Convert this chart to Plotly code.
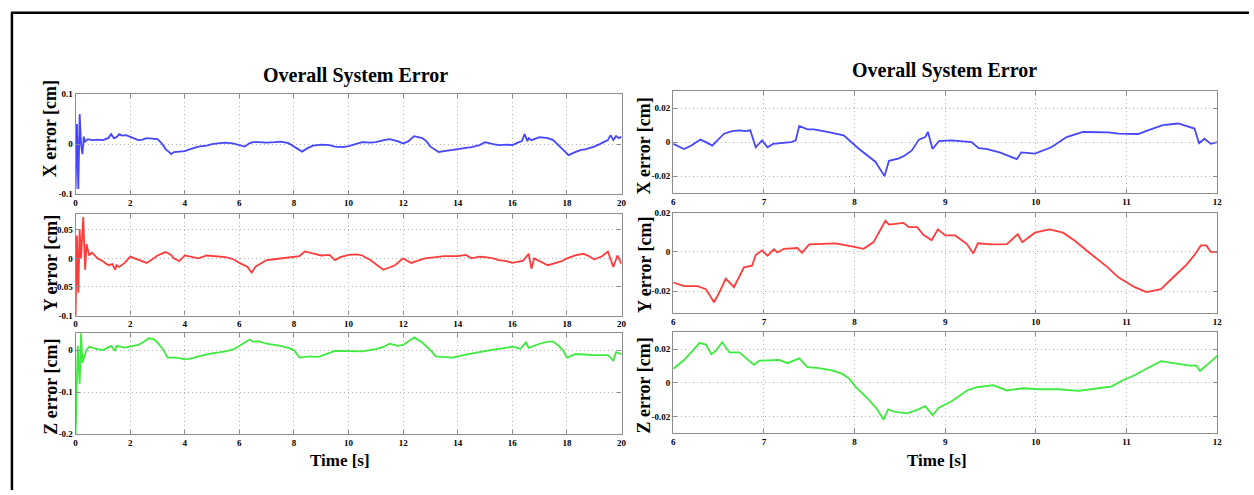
import plotly.graph_objects as go

# ---------------- data ----------------
# Left column: 0-20 s
t_lx = [0.0, 0.05, 0.1, 0.15, 0.2, 0.25, 0.3, 0.35, 0.45, 0.6, 0.8, 1.0, 1.2, 1.3, 1.4, 1.5, 1.6, 1.7, 1.85, 2.0, 2.15, 2.3, 2.45,
        2.6, 2.8, 3.0, 3.15, 3.3, 3.45, 3.5, 3.6, 3.8, 4.0, 4.2, 4.5, 4.8, 5.0, 5.3, 5.5, 5.8, 6.0, 6.2, 6.35, 6.5, 6.7, 7.0,
        7.3, 7.5, 7.8, 8.0, 8.15, 8.3, 8.5, 8.7, 9.0, 9.3, 9.5, 9.8, 10.0, 10.3, 10.5, 10.8, 11.0, 11.3, 11.5, 11.8, 12.0,
        12.2, 12.4, 12.7, 12.85, 13.0, 13.15, 13.3, 13.5, 13.8, 14.1, 14.5, 14.8, 15.0, 15.3, 15.5, 15.8, 16.0, 16.2, 16.35,
        16.45, 16.55, 16.6, 16.7, 17.0, 17.3, 17.5, 17.7, 17.9, 18.06, 18.3, 18.5, 18.7, 19.0, 19.2, 19.4, 19.5, 19.6, 19.7,
        19.8, 19.9, 20.0]
x_err_l = [-0.09, 0.04, -0.09, 0.06, 0.0, -0.02, 0.015, 0.005, 0.01, 0.008, 0.009, 0.008, 0.012, 0.02, 0.012, 0.014, 0.02, 0.017,
           0.018, 0.015, 0.012, 0.008, 0.009, 0.012, 0.011, 0.01, 0.002, -0.01, -0.017, -0.02, -0.016, -0.015, -0.014, -0.01,
           -0.005, -0.003, 0.0, 0.002, 0.003, 0.001, -0.002, -0.005, 0.001, 0.004, 0.004, 0.003, 0.004, 0.005, 0.002, -0.005,
           -0.01, -0.015, -0.008, -0.003, -0.001, -0.002, -0.005, -0.006, -0.004, 0.001, 0.004, 0.003, 0.004, 0.008, 0.01, 0.006,
           0.001, 0.006, 0.016, 0.012, 0.006, -0.005, -0.011, -0.016, -0.014, -0.012, -0.01, -0.006, -0.002, 0.004, 0.0, -0.002,
           -0.001, -0.002, 0.003, 0.006, 0.02, 0.006, 0.012, 0.008, 0.014, 0.012, 0.008, -0.002, -0.014, -0.022, -0.016, -0.012,
           -0.01, -0.005, 0.0, 0.005, 0.008, 0.018, 0.008, 0.016, 0.012, 0.015]

t_ly = [0.0, 0.05, 0.1, 0.15, 0.2, 0.28, 0.35, 0.4, 0.5, 0.6, 0.8, 1.0, 1.2, 1.35, 1.45, 1.5, 1.6, 1.8, 2.0, 2.15, 2.3, 2.6, 2.8,
        3.0, 3.3, 3.5, 3.6, 3.8, 4.0, 4.2, 4.5, 4.8, 5.0, 5.3, 5.5, 5.8, 6.0, 6.3, 6.45, 6.6, 6.8, 7.0, 7.2, 7.6, 8.0, 8.2,
        8.4, 8.7, 9.0, 9.3, 9.5, 9.7, 10.0, 10.3, 10.5, 10.8, 11.0, 11.27, 11.5, 11.7, 12.0, 12.3, 12.6, 12.8, 13.2, 13.5,
        14.0, 14.3, 14.5, 14.8, 15.0, 15.3, 15.5, 15.8, 16.0, 16.4, 16.6, 16.7, 16.8, 17.0, 17.3, 17.6, 17.8, 18.0, 18.3,
        18.6, 18.8, 19.0, 19.3, 19.5, 19.7, 19.85, 20.0]
y_err_l = [-0.1, 0.04, -0.06, 0.05, 0.0, 0.072, -0.02, 0.025, 0.005, 0.01, 0.0, -0.005, -0.012, -0.01, -0.02, -0.012, -0.015,
           -0.008, 0.003, 0.0, -0.003, -0.008, -0.002, 0.005, 0.011, 0.006, 0.0, -0.005, 0.005, 0.003, 0.0, 0.005, 0.004, 0.003,
           0.002, -0.002, -0.008, -0.015, -0.025, -0.014, -0.008, -0.003, -0.002, 0.0, 0.002, 0.004, 0.012, 0.008, 0.005, 0.006,
           -0.003, 0.002, 0.006, 0.007, 0.005, -0.003, -0.01, -0.02, -0.016, -0.012, 0.0, -0.008, -0.003, 0.0, 0.002, 0.004, 0.004,
           0.006, 0.0, 0.003, 0.002, 0.0, -0.003, -0.005, -0.008, -0.004, 0.008, -0.018, 0.0, -0.005, -0.012, -0.008, -0.005,
           0.0, 0.005, 0.008, 0.004, -0.002, 0.004, 0.012, -0.015, 0.005, -0.01]

t_lz = [0.0, 0.08, 0.15, 0.2, 0.25, 0.4, 0.5, 0.8, 1.0, 1.3, 1.45, 1.5, 1.8, 2.0, 2.3, 2.5, 2.69, 2.85, 3.0, 3.2, 3.37, 3.7, 4.0,
        4.3, 4.5, 5.0, 5.3, 5.5, 5.8, 6.0, 6.2, 6.38, 6.5, 6.7, 7.0, 7.3, 7.5, 7.8, 8.0, 8.2, 8.6, 8.9, 9.0, 9.5, 10.0, 10.5,
        11.0, 11.3, 11.5, 11.8, 12.0, 12.2, 12.4, 12.7, 13.0, 13.2, 13.5, 13.8, 14.2, 14.5, 15.0, 15.2, 15.5, 16.0, 16.3, 16.5,
        16.6, 16.8, 17.0, 17.3, 17.5, 17.7, 17.85, 18.0, 18.3, 18.5, 19.0, 19.5, 19.7, 19.8, 20.0]
z_err_l = [-0.2, 0.01, -0.08, 0.04, -0.03, 0.0, 0.008, 0.002, 0.0, 0.01, -0.002, 0.01, 0.006, 0.008, 0.012, 0.02, 0.028, 0.026,
           0.018, 0.002, -0.018, -0.018, -0.022, -0.019, -0.015, -0.008, -0.006, -0.003, 0.002, 0.01, 0.016, 0.025, 0.02, 0.021,
           0.015, 0.013, 0.01, 0.005, 0.0, -0.018, -0.015, -0.016, -0.014, -0.002, -0.003, -0.003, 0.002, 0.008, 0.015, 0.01,
           0.012, 0.022, 0.03, 0.018, 0.0, -0.015, -0.016, -0.018, -0.012, -0.008, -0.003, 0.0, 0.003, 0.008, 0.003, 0.018, 0.005,
           0.01, 0.015, 0.02, 0.02, 0.01, 0.0, -0.018, -0.01, -0.01, -0.012, -0.012, -0.025, -0.005, -0.01]

# Right column: 6-12 s (zoom)
t_rx = [6.0, 6.12, 6.2, 6.3, 6.36, 6.43, 6.56, 6.65, 6.73, 6.8, 6.85, 6.91, 6.98, 7.04, 7.1, 7.17, 7.3, 7.35, 7.39, 7.48, 7.55,
        7.7, 7.88, 8.05, 8.15, 8.23, 8.33, 8.38, 8.49, 8.55, 8.63, 8.71, 8.78, 8.81, 8.86, 8.93, 9.07, 9.2, 9.29, 9.37, 9.45,
        9.6, 9.7, 9.79, 9.84, 9.99, 10.17, 10.34, 10.52, 10.69, 10.8, 10.91, 11.13, 11.22, 11.4, 11.57, 11.75, 11.8, 11.86,
        11.93, 12.0]
x_err_r = [-0.001, -0.004, -0.002, 0.0015, 0.0, -0.002, 0.005, 0.0065, 0.007, 0.0065, 0.007, -0.003, 0.001, -0.003, -0.001,
           -0.0005, 0.0, 0.001, 0.0095, 0.0075, 0.0075, 0.006, 0.004, -0.004, -0.008, -0.0115, -0.02, -0.011, -0.0095, -0.008,
           -0.005, 0.0015, 0.003, 0.006, -0.004, 0.0006, 0.001, 0.0005, 0.0, -0.0035, -0.004, -0.006, -0.008, -0.01, -0.006,
           -0.0067, -0.003, 0.003, 0.006, 0.006, 0.0058, 0.005, 0.0048, 0.0067, 0.01, 0.011, 0.008, -0.0006, 0.002, -0.001, 0.0]

t_ry = [6.0, 6.12, 6.27, 6.36, 6.45, 6.51, 6.58, 6.67, 6.78, 6.87, 6.91, 6.98, 7.04, 7.11, 7.15, 7.22, 7.37, 7.42, 7.5, 7.61, 7.79,
        7.97, 8.1, 8.21, 8.34, 8.38, 8.54, 8.6, 8.69, 8.76, 8.85, 8.92, 9.0, 9.11, 9.24, 9.31, 9.36, 9.51, 9.68, 9.8, 9.85, 9.99,
        10.15, 10.3, 10.43, 10.6, 10.78, 10.91, 11.09, 11.22, 11.38, 11.53, 11.66, 11.75, 11.82, 11.88, 11.93, 12.0]
y_err_r = [-0.0156, -0.0175, -0.0175, -0.019, -0.0257, -0.0205, -0.0136, -0.018, -0.0079, -0.007, -0.0016, 0.0008, -0.002, 0.0013,
           -0.0003, 0.0016, 0.002, -0.0005, 0.0038, 0.004, 0.0044, 0.0028, 0.0016, 0.005, 0.0159, 0.0139, 0.0148, 0.0126, 0.0126,
           0.0087, 0.006, 0.0115, 0.0084, 0.0084, 0.004, -0.0008, 0.0044, 0.0038, 0.004, 0.009, 0.005, 0.0098, 0.0115, 0.0098,
           0.0057, -0.0008, -0.0074, -0.013, -0.018, -0.0205, -0.019, -0.0123, -0.0066, -0.0016, 0.0033, 0.0033, 0.0, 0.0]

t_rz = [6.0, 6.12, 6.23, 6.29, 6.36, 6.42, 6.47, 6.54, 6.62, 6.73, 6.89, 6.95, 7.17, 7.26, 7.39, 7.48, 7.61, 7.75, 7.86, 7.94, 8.01,
        8.14, 8.25, 8.32, 8.37, 8.45, 8.58, 8.69, 8.78, 8.86, 8.93, 9.07, 9.24, 9.35, 9.53, 9.68, 9.86, 10.03, 10.25, 10.47,
        10.69, 10.83, 10.96, 11.09, 11.22, 11.38, 11.57, 11.7, 11.77, 11.81, 11.88, 12.0]
z_err_r = [0.0083, 0.0135, 0.02, 0.0237, 0.0227, 0.017, 0.019, 0.0241, 0.018, 0.018, 0.0106, 0.0131, 0.0135, 0.0116, 0.0145, 0.0093,
           0.0087, 0.0073, 0.0054, 0.0025, -0.0023, -0.0091, -0.0158, -0.022, -0.0158, -0.0174, -0.0182, -0.0162, -0.0139, -0.0193,
           -0.0149, -0.011, -0.0046, -0.0027, -0.0014, -0.0046, -0.0033, -0.0039, -0.0039, -0.0048, -0.0033, -0.0023, 0.0015,
           0.0044, 0.0083, 0.0128, 0.0112, 0.0102, 0.0102, 0.007, 0.0102, 0.016]

left_xticks = [0, 2, 4, 6, 8, 10, 12, 14, 16, 18, 20]
right_xticks = [6, 7, 8, 9, 10, 11, 12]
ytick_lx = [-0.1, 0, 0.1]
ytick_ly = [-0.1, -0.05, 0, 0.05]
ytick_lz = [-0.2, -0.1, 0]
ytick_r = [-0.02, 0, 0.02]

title_text = "Overall System Error"
y_titles = ["X error [cm]", "Y error [cm]", "Z error [cm]"]
x_title = "Time [s]"

BLUE = "rgb(70,70,255)"
RED = "rgb(255,60,60)"
GREEN = "rgb(60,235,60)"

W, H = 1254, 495
FONT = "Liberation Serif"

def px(v):
    return v / W

def py(v):
    return 1 - v / H

# panel boxes in pixels: (left, right, top, bottom)
boxes = [
    (74, 623, 91, 193),
    (74, 623, 213, 317),
    (74, 623, 335, 438),
    (675, 1222, 88, 192),
    (675, 1222, 212, 314),
    (675, 1222, 334, 437),
]
ytitle_pos = [(49, 126), (49, 263), (49, 390), (646, 144), (646, 265), (646, 388)]

series = [
    (t_lx, x_err_l, BLUE), (t_ly, y_err_l, RED), (t_lz, z_err_l, GREEN),
    (t_rx, x_err_r, BLUE), (t_ry, y_err_r, RED), (t_rz, z_err_r, GREEN),
]
yranges = [[-0.1, 0.1], [-0.1, 0.078], [-0.2, 0.04], [-0.03, 0.03], [-0.031, 0.02], [-0.03, 0.03]]
yticks = [ytick_lx, ytick_ly, ytick_lz, ytick_r, ytick_r, ytick_r]

fig = go.Figure()
layout = dict(
    width=W, height=H, autosize=False,
    margin=dict(l=0, r=0, t=0, b=0),
    paper_bgcolor="white", plot_bgcolor="white",
    showlegend=False,
    font=dict(family=FONT, color="black"),
)

for i, ((t, v, c), box, yr, yt) in enumerate(zip(series, boxes, yranges, yticks)):
    n = "" if i == 0 else str(i + 1)
    fig.add_trace(go.Scatter(x=t, y=v, mode="lines", line=dict(color=c, width=1.8),
                             xaxis="x" + n, yaxis="y" + n, hoverinfo="skip"))
    left, right, top, bottom = box
    xt = left_xticks if i < 3 else right_xticks
    xr = [0, 20] if i < 3 else [6, 12]
    ax_common = dict(
        showline=True, linecolor="#8c8c8c", linewidth=1.2, mirror="allticks",
        ticks="inside", ticklen=4, tickcolor="#8c8c8c",
        showgrid=True, gridcolor="#b4b4b4", griddash="1px,3px", gridwidth=1,
        zeroline=False,
        tickfont=dict(family=FONT, size=9, color="black", weight=700),
    )
    layout["xaxis" + n] = dict(
        ax_common, domain=[px(left), px(right)], range=xr,
        tickvals=xt, ticktext=[str(k) for k in xt],
        anchor="y" + n,
    )
    layout["yaxis" + n] = dict(
        ax_common, domain=[py(bottom), py(top)], range=yr,
        tickvals=yt, ticktext=["%g" % k for k in yt],
        anchor="x" + n,
    )

annotations = []
# titles
annotations.append(dict(text=title_text, x=px(355), y=py(72), xref="paper", yref="paper",
                        showarrow=False, xanchor="center", yanchor="middle",
                        font=dict(family=FONT, size=20, color="black", weight=700)))
annotations.append(dict(text=title_text, x=px(948), y=py(67), xref="paper", yref="paper",
                        showarrow=False, xanchor="center", yanchor="middle",
                        font=dict(family=FONT, size=20, color="black", weight=700)))
# x titles
for cx in (340, 940):
    annotations.append(dict(text=x_title, x=px(cx), y=py(465), xref="paper", yref="paper",
                            showarrow=False, xanchor="center", yanchor="middle",
                            font=dict(family=FONT, size=17, color="black", weight=700)))
# y titles
for i, (cx, cy) in enumerate(ytitle_pos):
    annotations.append(dict(text=y_titles[i % 3], x=px(cx), y=py(cy), xref="paper", yref="paper",
                            showarrow=False, xanchor="center", yanchor="middle", textangle=-90,
                            font=dict(family=FONT, size=18, color="black", weight=700)))
layout["annotations"] = annotations

# outer frame (top and left edges only, as in the reference)
layout["shapes"] = [
    dict(type="line", xref="paper", yref="paper", x0=px(9), x1=1, y0=py(8), y1=py(8),
         line=dict(color="black", width=2.5)),
    dict(type="line", xref="paper", yref="paper", x0=px(10), x1=px(10), y0=py(8), y1=0,
         line=dict(color="black", width=2.5)),
]

fig.update_layout(**layout)
fig.write_html("out.html", config={"displayModeBar": False},
               post_script="document.body.style.margin='0';document.body.style.overflow='hidden';")
